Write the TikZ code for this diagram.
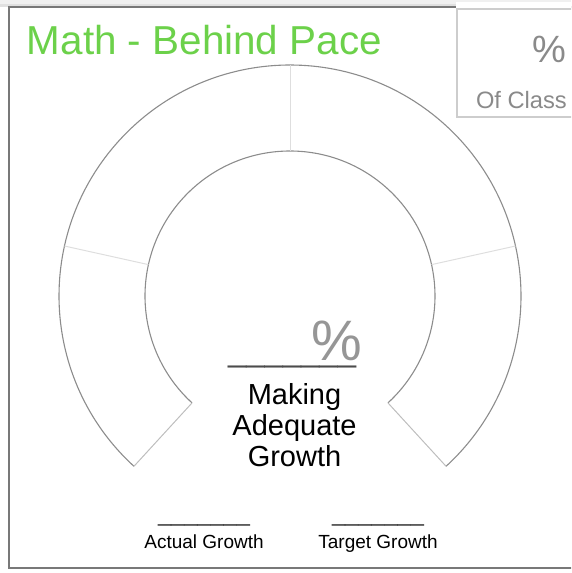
\documentclass[tikz,border=0pt]{standalone}
\usepackage{fontspec}
\setmainfont{Liberation Sans}
\usetikzlibrary{positioning}

\definecolor{titlegreen}{RGB}{108,209,74}
\definecolor{framegray}{RGB}{120,120,120}
\definecolor{boxgray}{RGB}{205,205,205}
\definecolor{arcgray}{RGB}{140,140,140}
\definecolor{capgray}{RGB}{190,190,190}
\definecolor{divgray}{RGB}{222,222,222}
\definecolor{pctgray}{RGB}{150,150,150}
\definecolor{labelgray}{RGB}{138,138,138}

\begin{document}
\begin{tikzpicture}[x=1pt,y=1pt,
  arcline/.style={draw=arcgray,line width=1.1pt},
  capline/.style={draw=capgray,line width=1pt},
  divline/.style={draw=divgray,line width=1pt},
  every node/.style={inner sep=0pt,outer sep=0pt}]
  \useasboundingbox (0,0) rectangle (571,573);
  \clip (0,0) rectangle (571,573);

  % frame and its shadow
  \fill[black!6] (0,566) rectangle (571,573);
  \fill[black!12] (0,566) rectangle (571,569);
  \draw[framegray,line width=1.3pt] (9,5) rectangle (600,566);

  % box top right
  \fill[white] (456,455) rectangle (600,571);
  \draw[boxgray,line width=2pt] (457,456) rectangle (600,564);

  % gauge
  \coordinate (c) at (290,277);
  \draw[arcline] (c) ++(227.5:231) arc[start angle=227.5,end angle=-47.5,radius=231];
  \draw[arcline] (c) ++(227.5:145) arc[start angle=227.5,end angle=-47.5,radius=145];
  \draw[capline] (c) ++(227.5:145) -- ++(227.5:86);
  \draw[capline] (c) ++(-47.5:145) -- ++(-47.5:86);
  \foreach \a in {167.5,90,12.5}
    \draw[divline] (c) ++(\a:145) -- ++(\a:86);

  % texts
  \node[anchor=base west,text=titlegreen] (title) at (27,518)
    {\fontsize{40.4}{44}\selectfont Math - Behind Pace};
  \node[anchor=base east,text=labelgray] (classpct) at (566,510)
    {\fontsize{38}{40}\selectfont \%};
  \node[anchor=base west,text=labelgray] (ofclass) at (476,464)
    {\fontsize{23.7}{26}\selectfont Of Class};

  \node[anchor=base west,text=black!70] (blank) at (228,211)
    {\fontsize{32.9}{34}\selectfont \_\_\_\_\_\_\_};
  \node[anchor=base west,text=pctgray] (pct) at (311,212)
    {\fontsize{57}{60}\selectfont \%};
  \node[anchor=base] (making) at (294.5,168) {\fontsize{29}{32}\selectfont Making};
  \node[anchor=base] (adequate) at (294.5,137) {\fontsize{29}{32}\selectfont Adequate};
  \node[anchor=base] (growth) at (294.5,106) {\fontsize{29}{32}\selectfont Growth};

  \node[anchor=base,text=black!80] (actblank) at (204,51.5)
    {\fontsize{23.6}{25}\selectfont \_\_\_\_\_\_\_};
  \node[anchor=base] (actual) at (204,24) {\fontsize{19}{21}\selectfont Actual Growth};
  \node[anchor=base,text=black!80] (tgtblank) at (378,51.5)
    {\fontsize{23.6}{25}\selectfont \_\_\_\_\_\_\_};
  \node[anchor=base] (target) at (378,24) {\fontsize{19}{21}\selectfont Target Growth};
\end{tikzpicture}
\end{document}
